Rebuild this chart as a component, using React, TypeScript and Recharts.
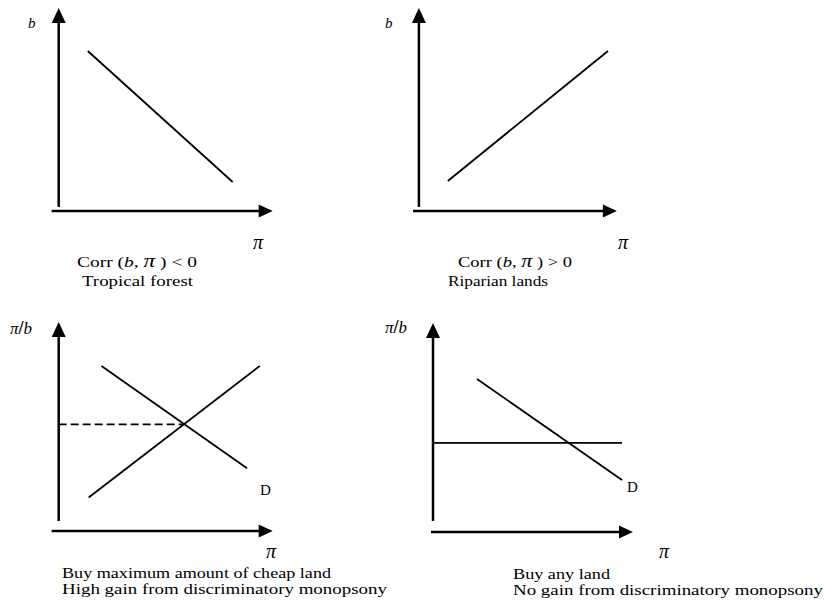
import { LineChart, Line, XAxis, YAxis, ReferenceLine, ReferenceDot } from 'recharts';

type Pt = { x: number; y: number };

// top left: tropical forest, b falls as pi rises
const forestLine: Pt[] = [
  { x: 1.36, y: 7.88 },
  { x: 8.13, y: 1.43 },
];
// top right: riparian lands, b rises with pi
const riparianLine: Pt[] = [
  { x: 1.46, y: 1.48 },
  { x: 9.55, y: 7.88 },
];
// bottom left: cheap land
const cheapDemand: Pt[] = [
  { x: 2.0, y: 7.9 },
  { x: 8.8, y: 3.0 },
];
const cheapSupply: Pt[] = [
  { x: 1.4, y: 1.6 },
  { x: 9.4, y: 7.9 },
];
const cheapPrice: Pt[] = [
  { x: 0, y: 5.1 },
  { x: 5.86, y: 5.1 },
];
// bottom right: any land
const anyDemand: Pt[] = [
  { x: 2.2, y: 7.32 },
  { x: 9.45, y: 2.49 },
];
const anySupply: Pt[] = [
  { x: 0, y: 4.26 },
  { x: 9.45, y: 4.26 },
];

const bottomLeftCaption = ['Buy maximum amount of cheap land', 'High gain from discriminatory monopsony'];
const bottomRightCaption = ['Buy any land', 'No gain from discriminatory monopsony'];
const topLeftName = 'Tropical forest';
const topRightName = 'Riparian lands';

// layout of each panel in page pixels (origin, arrow tips) and axis line starts in axis units
const TIP = 10;
const XMIN = -0.5;
const YMIN = -0.7;
const M = 10;
const FONT = '"Liberation Serif", "Times New Roman", serif';

type Frame = { ox: number; oy: number; xt: number; yt: number; xStart: number; yStart: number };

const frames: Record<string, Frame> = {
  tl: { ox: 59, oy: 211, xt: 273, yt: 8, xStart: -0.33, yStart: 0.2 },
  tr: { ox: 419, oy: 211, xt: 617, yt: 8, xStart: -0.3, yStart: 0.2 },
  bl: { ox: 59, oy: 531, xt: 273, yt: 322, xStart: -0.33, yStart: 0.48 },
  br: { ox: 433, oy: 532, xt: 633, yt: 323, xStart: -0.1, yStart: 0.53 },
};

const ArrowRight = (p: any) => (
  <polygon points={`${p.cx},${p.cy} ${p.cx - 14},${p.cy - 6.5} ${p.cx - 14},${p.cy + 6.5}`} fill="#000" />
);
const ArrowUp = (p: any) => (
  <polygon points={`${p.cx},${p.cy} ${p.cx - 7},${p.cy + 15} ${p.cx + 7},${p.cy + 15}`} fill="#000" />
);

function Panel({ f, children }: { f: Frame; children: any }) {
  const ux = (f.xt - f.ox) / TIP;
  const uy = (f.oy - f.yt) / TIP;
  const left = f.ox + XMIN * ux;
  const bottom = f.oy - YMIN * uy;
  const w = f.xt - left;
  const h = bottom - f.yt;
  return (
    <div style={{ position: 'absolute', left: left - M, top: f.yt - M }}>
      <LineChart width={w + 2 * M} height={h + 2 * M} margin={{ top: M, right: M, bottom: M, left: M }}>
        <XAxis type="number" dataKey="x" domain={[XMIN, TIP]} allowDataOverflow hide />
        <YAxis type="number" dataKey="y" domain={[YMIN, TIP]} allowDataOverflow hide />
        <ReferenceLine
          segment={[{ x: f.xStart, y: 0 }, { x: TIP - 0.5, y: 0 }]}
          stroke="#000"
          strokeWidth={2.5}
          ifOverflow="visible"
        />
        <ReferenceLine
          segment={[{ x: 0, y: f.yStart }, { x: 0, y: TIP - 0.5 }]}
          stroke="#000"
          strokeWidth={2.5}
          ifOverflow="visible"
        />
        <ReferenceDot x={TIP} y={0} shape={ArrowRight} ifOverflow="visible" />
        <ReferenceDot x={0} y={TIP} shape={ArrowUp} ifOverflow="visible" />
        {children}
      </LineChart>
    </div>
  );
}

const lineProps = {
  type: 'linear' as const,
  dataKey: 'y',
  stroke: '#000',
  strokeWidth: 1.8,
  dot: false,
  activeDot: false,
  isAnimationActive: false,
};

const Pi = ({ x, y, size }: { x: number; y: number; size: number }) => (
  <text x={x} y={y} fontSize={size} fontStyle="italic">π</text>
);

export default function App() {
  return (
    <div style={{ position: 'absolute', left: 0, top: 0, width: 824, height: 605, background: '#fff', fontFamily: FONT }}>
      <Panel f={frames.tl}>
        <Line {...lineProps} data={forestLine} />
      </Panel>
      <Panel f={frames.tr}>
        <Line {...lineProps} data={riparianLine} />
      </Panel>
      <Panel f={frames.bl}>
        <Line {...lineProps} data={cheapDemand} />
        <Line {...lineProps} data={cheapSupply} />
        <Line {...lineProps} data={cheapPrice} strokeDasharray="8 4" />
      </Panel>
      <Panel f={frames.br}>
        <Line {...lineProps} data={anyDemand} />
        <Line {...lineProps} data={anySupply} />
      </Panel>

      <svg
        width={824}
        height={605}
        style={{ position: 'absolute', left: 0, top: 0, pointerEvents: 'none' }}
        fontFamily={FONT}
        fill="#000"
      >
        {/* axis labels */}
        <text x={28} y={28} fontSize={15} fontStyle="italic">b</text>
        <text x={385} y={28} fontSize={15} fontStyle="italic">b</text>
        <Pi x={253} y={249} size={20} />
        <Pi x={618} y={249} size={20} />
        <Pi x={266} y={558} size={20} />
        <Pi x={659} y={558} size={20} />
        <text x={10} y={334} fontSize={17}>
          <tspan fontStyle="italic">π</tspan>
          <tspan fontWeight="bold" fontSize={18}>/</tspan>
          <tspan fontStyle="italic">b</tspan>
        </text>
        <text x={385} y={333} fontSize={17}>
          <tspan fontStyle="italic">π</tspan>
          <tspan fontWeight="bold" fontSize={18}>/</tspan>
          <tspan fontStyle="italic">b</tspan>
        </text>
        <text x={260} y={495} fontSize={15}>D</text>
        <text x={627} y={492} fontSize={15}>D</text>

        {/* captions */}
        <text x={77} y={267} fontSize={15} textLength={120} lengthAdjust="spacingAndGlyphs">
          Corr (<tspan fontStyle="italic">b</tspan>, <tspan fontStyle="italic" fontSize={18}>π</tspan> ) &lt; 0
        </text>
        <text x={82} y={286} fontSize={15} textLength={111} lengthAdjust="spacingAndGlyphs">{topLeftName}</text>
        <text x={458} y={267} fontSize={15} textLength={114} lengthAdjust="spacingAndGlyphs">
          Corr (<tspan fontStyle="italic">b</tspan>, <tspan fontStyle="italic" fontSize={18}>π</tspan> ) &gt; 0
        </text>
        <text x={448} y={286} fontSize={15} textLength={100} lengthAdjust="spacingAndGlyphs">{topRightName}</text>

        <text x={62} y={578} fontSize={15} textLength={269} lengthAdjust="spacingAndGlyphs">{bottomLeftCaption[0]}</text>
        <text x={62} y={594} fontSize={15} textLength={325} lengthAdjust="spacingAndGlyphs">{bottomLeftCaption[1]}</text>
        <text x={513} y={579} fontSize={15} textLength={97} lengthAdjust="spacingAndGlyphs">{bottomRightCaption[0]}</text>
        <text x={513} y={595} fontSize={15} textLength={310} lengthAdjust="spacingAndGlyphs">{bottomRightCaption[1]}</text>
      </svg>
    </div>
  );
}
